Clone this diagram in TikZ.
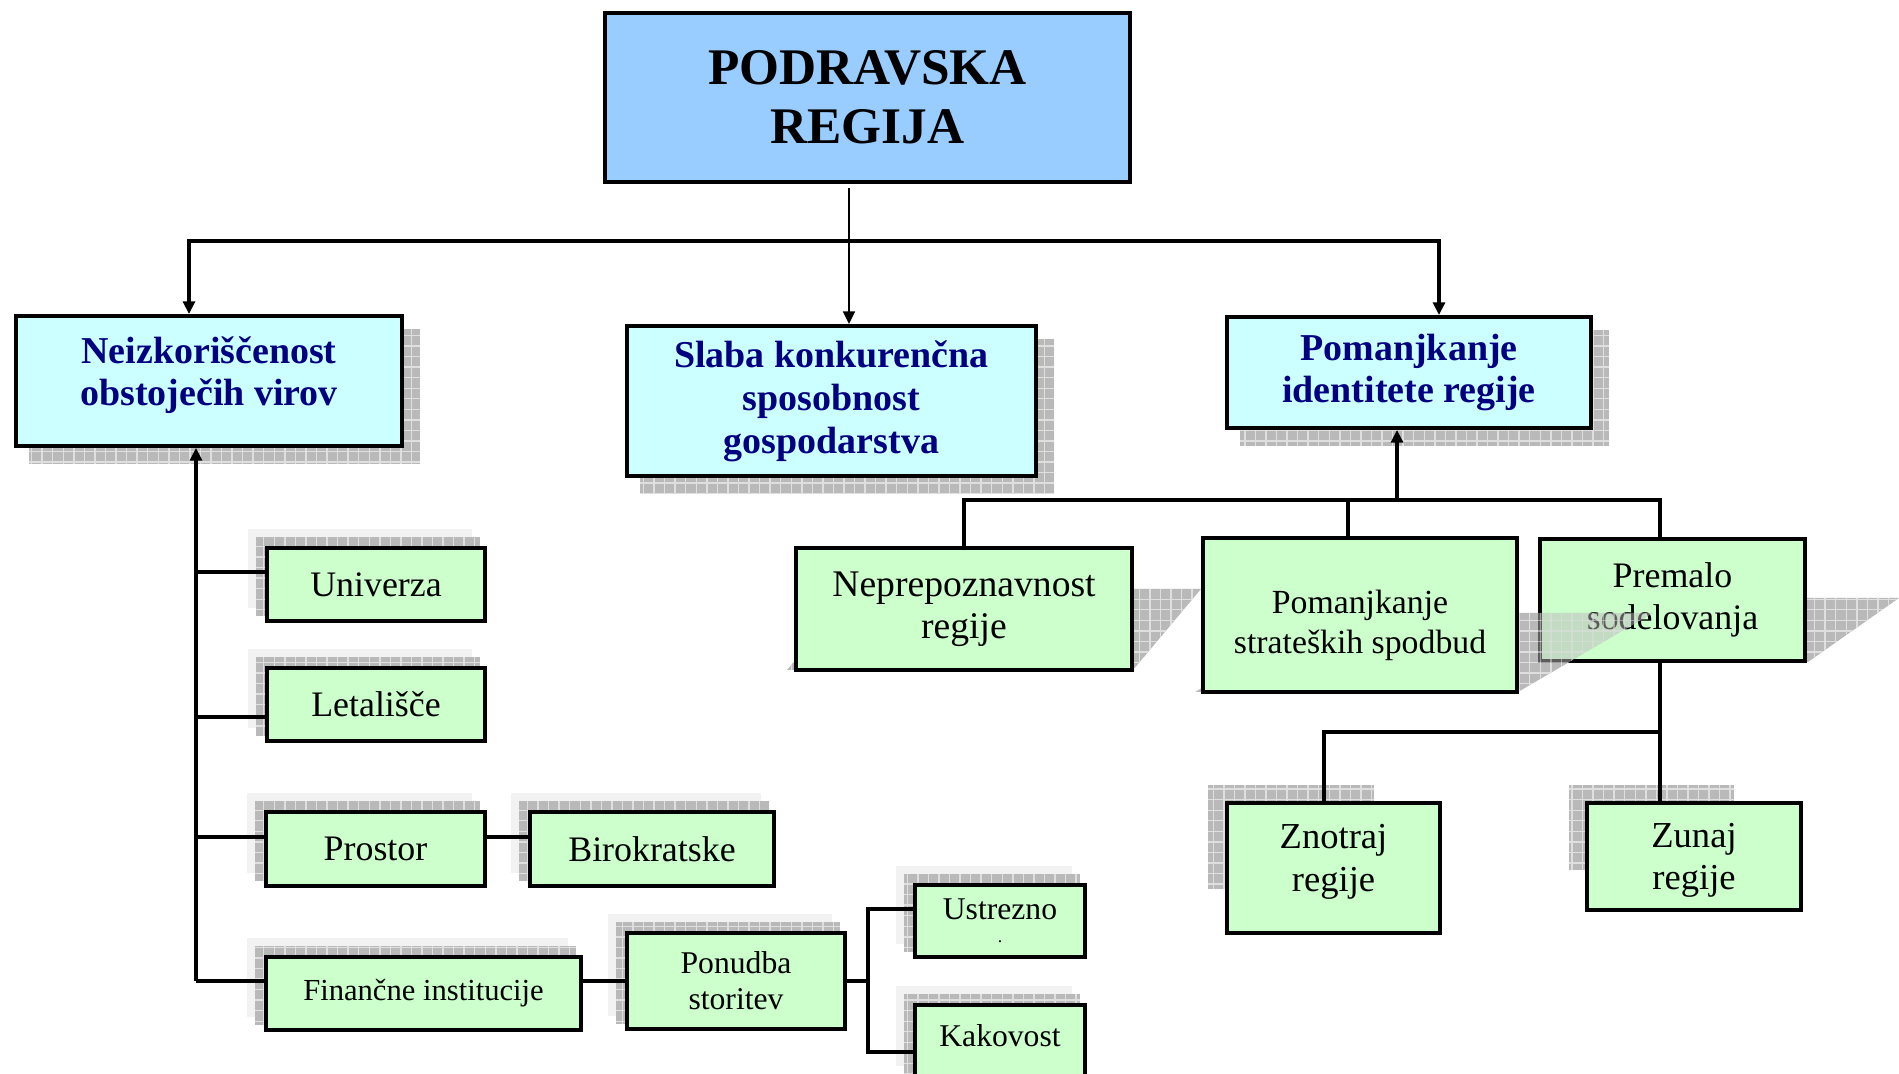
\documentclass[tikz,border=0pt]{standalone}
\usepackage{fontspec}
\setmainfont{Liberation Serif}
\usepackage{tikz}
\usetikzlibrary{shapes,backgrounds,patterns,arrows.meta}

\definecolor{topblue}{RGB}{153,204,255}
\definecolor{lightcyan}{RGB}{204,255,255}
\definecolor{lightgreen}{RGB}{204,255,204}
\definecolor{headnavy}{RGB}{0,0,128}

\tikzset{
  >={Triangle[length=3.6pt,width=3.4pt]},
  box/.style={draw, line width=1.1pt, rectangle, align=center, inner sep=0pt},
  boxdim/.style 2 args={minimum width=#1*0.1mm, minimum height=#2*0.1mm},
  topbox/.style={box, fill=topblue, font=\fontsize{14.6}{16.8}\selectfont\bfseries},
  headbox/.style={box, fill=lightcyan, text=headnavy, font=\fontsize{10.8}{11.8}\selectfont\bfseries},
  leafbox/.style={box, fill=lightgreen, font=\fontsize{10.2}{12}\selectfont},
  smallleaf/.style={leafbox, font=\fontsize{9}{10.2}\selectfont},
  link/.style={line width=0.9pt},
  gridshadow/.style={fill=gray!55, postaction={pattern=grid, pattern color=gray!25}},
  halo/.style={fill=gray!10},
}

% shadow up and left of a box
\newcommand{\ulshadow}[1]{%
  \fill[halo] ([shift={(-17,-17)}]#1.north west) rectangle ([shift={(-15,-15)}]#1.south east);
  \fill[gridshadow] ([shift={(-9,-9)}]#1.north west) rectangle ([shift={(-7,-7)}]#1.south east);}
% shadow down and right of a box
\newcommand{\drshadow}[1]{%
  \fill[gridshadow] ([shift={(15,15)}]#1.north west) rectangle ([shift={(16,16)}]#1.south east);}

\begin{document}
\begin{tikzpicture}[x=0.01cm, y=-0.01cm]
  \useasboundingbox (0,0) rectangle (1899,1074);

  % region and main problems
  \node[topbox, boxdim={525}{169}] (top) at (867.5,97.5) {PODRAVSKA\\REGIJA};
  \node[headbox, boxdim={386}{130}, text depth=5.6pt] (neiz) at (209,381) {Neizkoriščenost\\obstoječih virov};
  \node[headbox, boxdim={409}{150}, font=\fontsize{10.8}{12.2}\selectfont\bfseries] (slaba) at (831.5,401) {Slaba konkurenčna\\sposobnost\\gospodarstva};
  \node[headbox, boxdim={364}{111}] (poman) at (1409,372.5) {Pomanjkanje\\identitete regije};

  % left branch
  \node[leafbox, boxdim={218}{73}] (univ) at (376,584.5) {Univerza};
  \node[leafbox, boxdim={218}{73}] (leta) at (376,704.5) {Letališče};
  \node[leafbox, boxdim={219}{74}] (pros) at (375.5,849) {Prostor};
  \node[leafbox, boxdim={244}{74}] (biro) at (652,849) {Birokratske};
  \node[smallleaf, boxdim={315}{73}, font=\fontsize{8.7}{10}\selectfont] (fin) at (423.5,993.5) {Finančne institucije};
  \node[smallleaf, boxdim={218}{96}] (pon) at (736,981) {Ponudba\\storitev};
  \node[smallleaf, boxdim={170}{72}] (ustr) at (1000,921) {Ustrezno\\[-3.7pt]{\fontsize{5}{5}\selectfont .}};
  \node[smallleaf, boxdim={170}{74}, text depth=3.4pt] (kak) at (1000,1042) {Kakovost};

  % right branch
  \node[leafbox, boxdim={336}{122}, font=\fontsize{10.7}{12}\selectfont] (nepre) at (964,609) {Neprepoznavnost\\regije};
  \node[leafbox, boxdim={314}{154}, font=\fontsize{9.6}{11.4}\selectfont, text height=24pt] (strat) at (1360,615) {Pomanjkanje\\strateških spodbud};
  \node[leafbox, boxdim={265}{122}] (prem) at (1672.5,600) {Premalo\\sodelovanja};
  \node[leafbox, boxdim={213}{130}, font=\fontsize{10.4}{12}\selectfont, text depth=5.7pt] (znot) at (1333.5,868) {Znotraj\\regije};
  \node[leafbox, boxdim={214}{107}, font=\fontsize{10.4}{12}\selectfont, text depth=-0.5pt] (zun) at (1694,856.5) {Zunaj\\regije};

  \coordinate (stem) at (849,188);
  \coordinate (busL) at (189,241);
  \coordinate (busR) at (1439,241);
  \coordinate (tr) at (196,981);
  \coordinate (fork) at (868,981);
  \coordinate (rbus) at (1397,500);
  \coordinate (split) at (1660,732);

  % shadows
  \begin{pgfonlayer}{background}
    \drshadow{neiz} \drshadow{slaba} \drshadow{poman}
    \ulshadow{univ} \ulshadow{leta} \ulshadow{pros} \ulshadow{biro}
    \ulshadow{fin} \ulshadow{pon} \ulshadow{ustr} \ulshadow{kak}
    \fill[gridshadow] ([shift={(-17,-16)}]znot.north west) rectangle ([shift={(-68,-46)}]znot.south east);
    \fill[gridshadow] ([shift={(-16,-16)}]zun.north west) rectangle ([shift={(-69,-42)}]zun.south east);
    \fill[gridshadow] (787,670) -- (1133,670) -- (1201,589) -- (855,589) -- cycle;
    \fill[gridshadow] (1195,692) -- (1518,692) -- (1653,613) -- (1330,613) -- cycle;
    \fill[gridshadow] (1530,662) -- (1808,662) -- (1899,598) -- (1621,598) -- cycle;
  \end{pgfonlayer}
  \begin{scope}
    \clip (prem.north west) rectangle (prem.south east);
    \fill[gridshadow, opacity=0.5] (1195,692) -- (1518,692) -- (1653,613) -- (1330,613) -- cycle;
  \end{scope}

  % connectors
  \draw[->, line width=0.5pt] (stem) -- (stem |- slaba.north);
  \draw[link, <->] (busL |- neiz.north) -- (busL) -- (busR) -- (busR |- poman.north);

  \draw[link, <-] (neiz.south -| tr) -- (tr);
  \draw[link] (tr |- 0,572) -- (univ.west |- 0,572);
  \draw[link] (tr |- 0,717) -- (leta.west |- 0,717);
  \draw[link] (tr |- 0,837) -- (pros.west |- 0,837);
  \draw[link] (tr) -- (fin.west |- tr);
  \draw[link] (pros.east |- 0,837) -- (biro.west |- 0,837);
  \draw[link] (fin.east |- pon.west) -- (pon.west);
  \draw[link] (pon.east) -- (fork);
  \draw[link] (ustr.west |- 0,909) -| (fork) |- (kak.west |- 0,1052);

  \draw[link, ->] (rbus) -- (rbus |- poman.south);
  \draw[link] (nepre.north) |- (split |- rbus) -- (split |- prem.north);
  \draw[link] (strat.north -| 1348,0) -- (1348,500);
  \draw[link] (prem.south -| split) -- (split |- zun.north);
  \draw[link] (split) -| (znot.north -| 1324,0);
\end{tikzpicture}
\end{document}
